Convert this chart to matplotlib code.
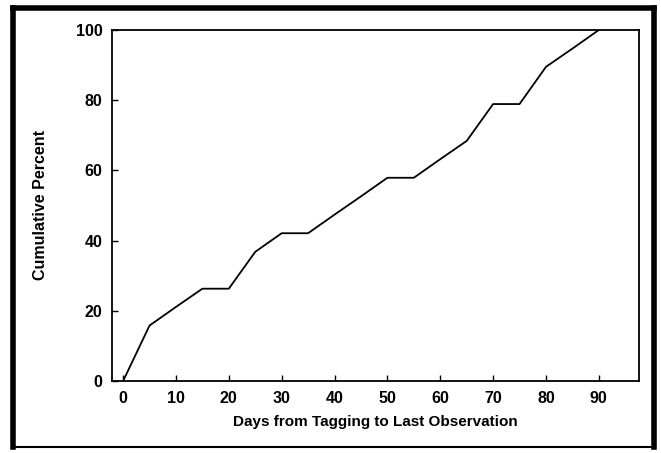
import matplotlib.pyplot as plt
from matplotlib.lines import Line2D

# 日数と累積パーセント (19個体 -> 1/19 刻み)
days = [0, 5, 10, 15, 20, 25, 30, 35, 40, 45, 50, 55, 60, 65, 70, 75, 80, 85, 90]
cum_percent = [0, 15.8, 21.1, 26.3, 26.3, 36.8, 42.1, 42.1, 47.4, 52.6,
               57.9, 57.9, 63.2, 68.4, 78.9, 78.9, 89.5, 94.7, 100]
x_ticks = [0, 10, 20, 30, 40, 50, 60, 70, 80, 90]
y_ticks = [0, 20, 40, 60, 80, 100]

plt.rcParams['font.family'] = ['Liberation Sans', 'DejaVu Sans']

fig = plt.figure(figsize=(6.61, 4.53), dpi=100)
W, H = 661, 453
ax = fig.add_axes([112 / W, 1 - 381 / H, (639 - 112) / W, (381 - 30) / H])

ax.plot(days, cum_percent, color='black', linewidth=1.3)
ax.set_xlim(-2.1, 97.6)
ax.set_ylim(0, 100)
ax.set_xticks(x_ticks)
ax.set_yticks(y_ticks)
ax.tick_params(direction='in', length=4, width=1, labelsize=11.5, pad=7,
               top=False, right=False)
for lab in ax.get_xticklabels() + ax.get_yticklabels():
    lab.set_fontweight('bold')
for s in ax.spines.values():
    s.set_linewidth(1.3)

ax.set_xlabel("Days from Tagging to Last Observation", fontsize=11,
              fontweight='bold', labelpad=7)
ax.set_ylabel("Cumulative Percent", fontsize=11.5, fontweight='bold', labelpad=20)

# 外枠 (スキャン画像の枠線)
def fx(px):
    return px / W

def fy(py):
    return 1 - py / H

fig.add_artist(Line2D([fx(13), fx(654)], [fy(8), fy(8)], color='black', linewidth=4))
fig.add_artist(Line2D([fx(13), fx(13)], [fy(8), fy(447)], color='black', linewidth=4))
fig.add_artist(Line2D([fx(654), fx(654)], [fy(8), fy(447)], color='black', linewidth=4))
fig.add_artist(Line2D([fx(13), fx(654)], [fy(447), fy(447)], color='black', linewidth=1.5))

fig.savefig("out.png", dpi=100)
